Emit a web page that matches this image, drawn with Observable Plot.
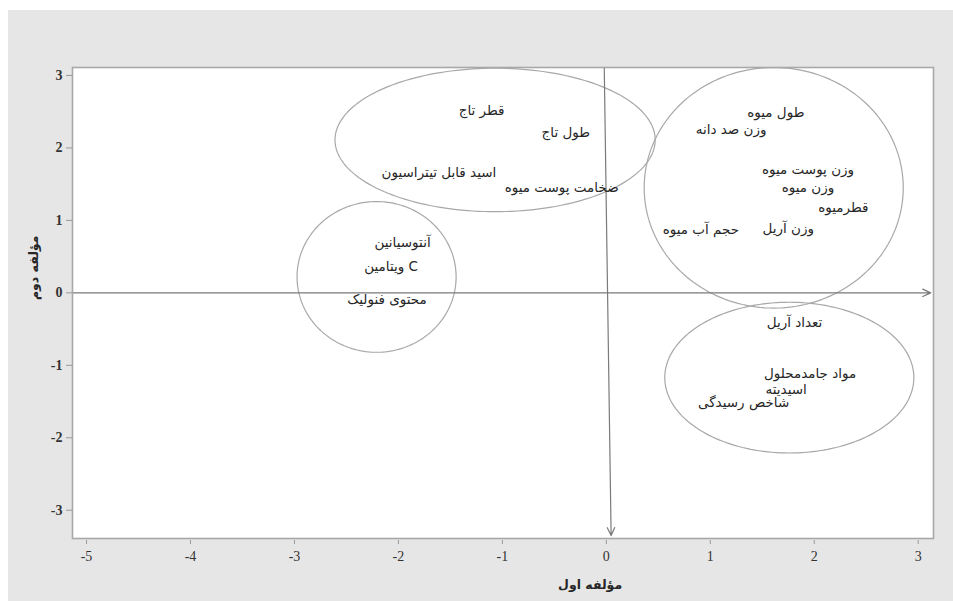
<!DOCTYPE html>
<html>
<head>
<meta charset="utf-8">
<script src="https://cdn.jsdelivr.net/npm/d3@7"></script>
<script src="https://cdn.jsdelivr.net/npm/@observablehq/plot@0.6"></script>
<style>
  html, body { margin: 0; padding: 0; background: #ffffff; }
  #chart { position: absolute; left: 8px; top: 10px; width: 945px; height: 591px; background: #e6e6e6; }
  #chart svg { display: block; }
</style>
</head>
<body>
<div id="chart"></div>
<script>
// Variable labels and their loadings on the first two components
const labels = [
  "قطر تاج", "طول تاج", "اسید قابل تیتراسیون", "ضخامت پوست میوه",
  "طول میوه", "وزن صد دانه", "وزن پوست میوه", "وزن میوه", "قطرمیوه", "وزن آریل", "حجم آب میوه",
  "آنتوسیانین", "ویتامین C", "محتوی فنولیک",
  "تعداد آریل", "مواد جامدمحلول", "اسیدیته", "شاخص رسیدگی"
];
const pc1 = [-1.20, -0.39, -1.61, -0.43, 1.63, 1.20, 1.94, 1.94, 2.28, 1.75, 0.91, -1.96, -2.07, -2.11, 1.81, 1.96, 1.73, 1.32];
const pc2 = [2.51, 2.21, 1.66, 1.45, 2.49, 2.25, 1.70, 1.45, 1.17, 0.89, 0.87, 0.69, 0.36, -0.09, -0.41, -1.11, -1.33, -1.51];

// Group ellipses (centre and radii in component units)
const ellipseCx = [-1.07, -2.21, 1.61, 1.76];
const ellipseCy = [2.11, 0.22, 1.45, -1.17];
const ellipseRx = [1.54, 0.765, 1.246, 1.198];
const ellipseRy = [0.99, 1.04, 1.66, 1.04];

// Tick labels
const xTicks = [-5, -4, -3, -2, -1, 0, 1, 2, 3];
const yTicks = [-3, -2, -1, 0, 1, 2, 3];

// Axis titles
const xTitle = "مؤلفه اول";
const yTitle = "مؤلفه دوم";

// Reference axes drawn as arrows through the origin
const axisArrows = [
  {x1: -5.135, y1: 0, x2: 3.12, y2: 0},
  {x1: -0.02, y1: 3.11, x2: 0.046, y2: -3.35}
];

const points = labels.map((label, i) => ({label, x: pc1[i], y: pc2[i]}));

const ellipsePts = [];
ellipseCx.forEach((cx, k) => {
  const n = 180;
  for (let j = 0; j <= n; j++) {
    const t = (2 * Math.PI * j) / n;
    ellipsePts.push({id: k, x: cx + ellipseRx[k] * Math.cos(t), y: ellipseCy[k] + ellipseRy[k] * Math.sin(t)});
  }
});

const persianFont = "'DejaVu Sans', 'Noto Sans', sans-serif";
const tickFont = "'Liberation Serif', 'DejaVu Serif', serif";
const fmt = d => String(d);

const chart = Plot.plot({
  width: 945,
  height: 591,
  marginLeft: 64,
  marginRight: 20,
  marginTop: 57,
  marginBottom: 63,
  style: {background: "#e6e6e6", overflow: "visible"},
  x: {domain: [-5.135, 3.147]},
  y: {domain: [-3.39, 3.11]},
  marks: [
    Plot.frame({fill: "white", stroke: "none"}),
    Plot.line(ellipsePts, {x: "x", y: "y", z: "id", stroke: "#a8a8a8", strokeWidth: 1.2}),
    Plot.arrow(axisArrows, {x1: "x1", y1: "y1", x2: "x2", y2: "y2", stroke: "#7a7a7a", strokeWidth: 1.2, headLength: 11, headAngle: 50}),
    Plot.frame({stroke: "#a8a8a8", strokeWidth: 1.6}),
    Plot.axisX(xTicks, {tickSize: 4, dy: 2, tickPadding: 7, tickFormat: fmt, stroke: "#999", fill: "#333", fontSize: 14, fontFamily: tickFont, label: null}),
    Plot.axisY(yTicks, {tickSize: 6, tickPadding: 4, tickFormat: fmt, stroke: "#999", fill: "#333", fontSize: 14, fontWeight: "bold", fontFamily: tickFont, label: null}),
    Plot.text(points, {x: "x", y: "y", text: "label", fill: "#262626", fontSize: 13.5, fontFamily: persianFont, textAnchor: "middle"}),
    Plot.text([xTitle], {x: -0.156, frameAnchor: "bottom", dy: 50, text: d => d, fill: "#262626", fontSize: 12.5, fontWeight: "bold", fontFamily: persianFont}),
    Plot.text([yTitle], {y: -0.1, frameAnchor: "left", dx: -39, rotate: -90, text: d => d, fill: "#262626", fontSize: 12.5, fontWeight: "bold", fontFamily: persianFont})
  ]
});

document.getElementById("chart").appendChild(chart);
</script>
</body>
</html>
